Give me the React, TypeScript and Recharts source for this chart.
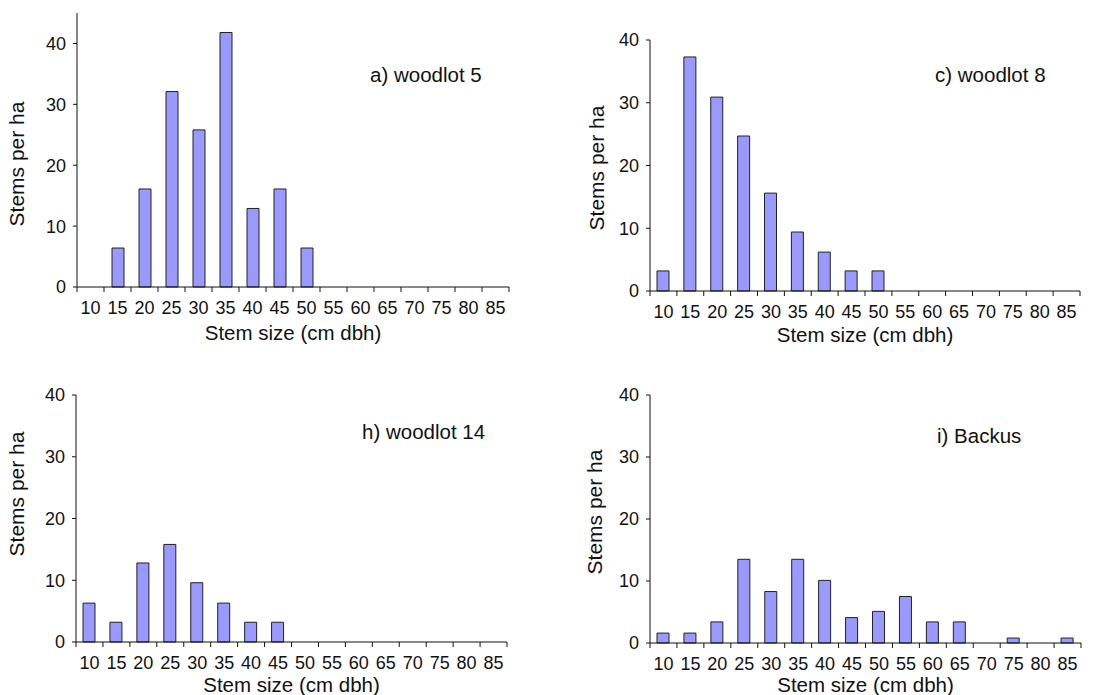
import { Bar, BarChart, Label, XAxis, YAxis } from "recharts";

const sizeClasses = ["10", "15", "20", "25", "30", "35", "40", "45", "50", "55", "60", "65", "70", "75", "80", "85"];

const woodlot5 = [0, 6.4, 16.1, 32.1, 25.8, 41.8, 12.9, 16.1, 6.4, 0, 0, 0, 0, 0, 0, 0];
const woodlot8 = [3.2, 37.3, 30.9, 24.7, 15.6, 9.4, 6.2, 3.2, 3.2, 0, 0, 0, 0, 0, 0, 0];
const woodlot14 = [6.3, 3.2, 12.8, 15.8, 9.6, 6.3, 3.2, 3.2, 0, 0, 0, 0, 0, 0, 0, 0];
const backus = [1.6, 1.6, 3.4, 13.5, 8.3, 13.5, 10.1, 4.1, 5.1, 7.5, 3.4, 3.4, 0, 0.8, 0, 0.8];

const yTicks = [0, 10, 20, 30, 40];

const FONT = "Arial, 'Liberation Sans', sans-serif";
const INK = "#111";

type PanelProps = {
  title: string;
  values: number[];
  yMax: number;
  left: number;
  top: number;
  width: number;
  height: number;
  yAxisWidth: number;
  xAxisHeight: number;
  marginTop: number;
  marginRight: number;
  yLabelX: number;
  yLabelY: number;
  xLabelY: number;
  titleX: number;
  titleY: number;
};

function Panel(p: PanelProps) {
  const data = sizeClasses.map((name, i) => ({ name, stems: p.values[i] }));
  const plotWidth = p.width - p.yAxisWidth - p.marginRight;
  const band = plotWidth / sizeClasses.length;

  // category labels sit mid-band, tick marks go on the band edges
  const xTick = (props: any) => {
    const { x, y, payload, index } = props;
    return (
      <g>
        <line x1={x - band / 2} y1={y} x2={x - band / 2} y2={y + 5} stroke={INK} />
        {index === sizeClasses.length - 1 && (
          <line x1={x + band / 2} y1={y} x2={x + band / 2} y2={y + 5} stroke={INK} />
        )}
        <text x={x} y={y + 14} dy="0.71em" textAnchor="middle" fontSize={18} fill={INK} fontFamily={FONT}>
          {payload.value}
        </text>
      </g>
    );
  };

  return (
    <div style={{ position: "absolute", left: p.left, top: p.top }}>
      <BarChart
        width={p.width}
        height={p.height}
        data={data}
        margin={{ top: p.marginTop, right: p.marginRight, left: 0, bottom: 0 }}
        barSize={12}
      >
        <XAxis
          dataKey="name"
          height={p.xAxisHeight}
          interval={0}
          tickLine={false}
          tickSize={0}
          tickMargin={0}
          tick={xTick}
          axisLine={{ stroke: INK }}
        >
          <Label
            content={() => (
              <text
                x={p.yAxisWidth + plotWidth / 2}
                y={p.xLabelY}
                dy="0.35em"
                textAnchor="middle"
                fontSize={20.5}
                fill={INK}
                fontFamily={FONT}
              >
                Stem size (cm dbh)
              </text>
            )}
          />
        </XAxis>
        <YAxis
          width={p.yAxisWidth}
          domain={[0, p.yMax]}
          ticks={yTicks}
          interval={0}
          tickSize={4}
          tickMargin={7}
          tick={{ fontSize: 18, fill: INK, fontFamily: FONT }}
          tickLine={{ stroke: INK }}
          axisLine={{ stroke: INK }}
        >
          <Label
            content={() => (
              <text
                x={p.yLabelX}
                y={p.yLabelY}
                dy="0.35em"
                textAnchor="middle"
                transform={`rotate(-90 ${p.yLabelX} ${p.yLabelY})`}
                fontSize={21}
                fill={INK}
                fontFamily={FONT}
              >
                Stems per ha
              </text>
            )}
          />
        </YAxis>
        <Bar dataKey="stems" fill="#9999ff" stroke="#222" strokeWidth={1} isAnimationActive={false} />
      </BarChart>
      <div
        style={{
          position: "absolute",
          left: p.titleX,
          top: p.titleY - 12,
          fontFamily: FONT,
          fontSize: 20.5,
          lineHeight: "24px",
          color: INK,
          whiteSpace: "nowrap",
        }}
      >
        {p.title}
      </div>
    </div>
  );
}

export default function App() {
  return (
    <div
      style={{
        position: "absolute",
        left: 0,
        top: 0,
        width: 1103,
        height: 695,
        background: "#fff",
        overflow: "hidden",
      }}
    >
      <Panel
        title="a) woodlot 5"
        values={woodlot5}
        yMax={45}
        left={0}
        top={0}
        width={530}
        height={350}
        yAxisWidth={77}
        xAxisHeight={63}
        marginTop={13}
        marginRight={21}
        yLabelX={17}
        yLabelY={164}
        xLabelY={333}
        titleX={370}
        titleY={75}
      />
      <Panel
        title="c) woodlot 8"
        values={woodlot8}
        yMax={40}
        left={560}
        top={0}
        width={540}
        height={350}
        yAxisWidth={90}
        xAxisHeight={59}
        marginTop={40}
        marginRight={20}
        yLabelX={37}
        yLabelY={168}
        xLabelY={335}
        titleX={375}
        titleY={75}
      />
      <Panel
        title="h) woodlot 14"
        values={woodlot14}
        yMax={40}
        left={0}
        top={360}
        width={530}
        height={335}
        yAxisWidth={76}
        xAxisHeight={53}
        marginTop={35}
        marginRight={23}
        yLabelX={17}
        yLabelY={134}
        xLabelY={325}
        titleX={362}
        titleY={72}
      />
      <Panel
        title="i) Backus"
        values={backus}
        yMax={40}
        left={560}
        top={360}
        width={540}
        height={335}
        yAxisWidth={90}
        xAxisHeight={52}
        marginTop={35}
        marginRight={19}
        yLabelX={35}
        yLabelY={152}
        xLabelY={325}
        titleX={377}
        titleY={76}
      />
    </div>
  );
}
